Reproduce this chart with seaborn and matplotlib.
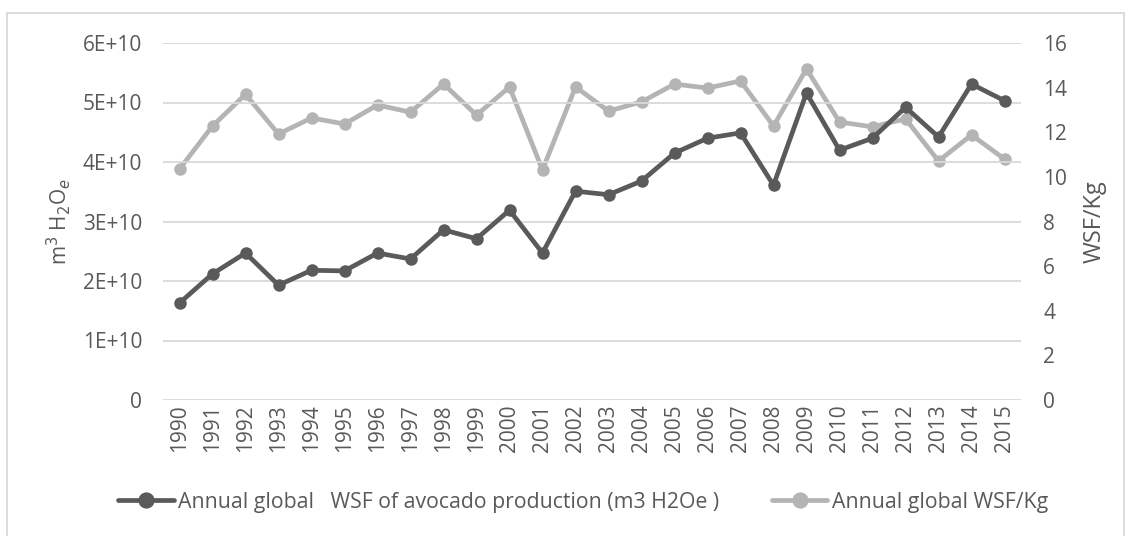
import matplotlib
matplotlib.use("Agg")
import matplotlib.pyplot as plt
import seaborn as sns
import pandas as pd
from matplotlib.patches import Rectangle
from matplotlib.ticker import FixedLocator, FuncFormatter

years = [str(y) for y in range(1990, 2016)]
wsf_total = [1.63e10, 2.12e10, 2.47e10, 1.93e10, 2.18e10, 2.17e10, 2.47e10, 2.37e10,
             2.86e10, 2.71e10, 3.19e10, 2.47e10, 3.51e10, 3.45e10, 3.68e10, 4.15e10,
             4.40e10, 4.49e10, 3.61e10, 5.16e10, 4.20e10, 4.40e10, 4.92e10, 4.42e10,
             5.31e10, 5.03e10]
wsf_per_kg = [10.35, 12.28, 13.70, 11.92, 12.64, 12.37, 13.22, 12.90, 14.16, 12.77,
              14.03, 10.31, 14.03, 12.95, 13.36, 14.16, 13.98, 14.30, 12.28, 14.84,
              12.46, 12.24, 12.60, 10.71, 11.88, 10.80]
label_total = "Annual global   WSF of avocado production (m3 H2Oe )"
label_kg = "Annual global WSF/Kg"

sns.set_style("white")
plt.rcParams['font.family'] = ['Open Sans', 'DejaVu Sans']

dark = "#5a5a5a"
light = "#b4b4b4"
txt = "#595959"
grid = "#d9d9d9"

df = pd.DataFrame({"year": years, "total": wsf_total, "perkg": wsf_per_kg})
df["x"] = range(len(years))

fig = plt.figure(figsize=(11.3, 5.36), dpi=100)
ax = fig.add_axes([163/1130, 1-400/536, 858/1130, 357/536])
ax2 = ax.twinx()

sns.lineplot(data=df, x="x", y="total", ax=ax, color=dark, lw=3.4, marker="o",
             markersize=9, markeredgewidth=0, label=label_total, legend=False, zorder=3)
sns.lineplot(data=df, x="x", y="perkg", ax=ax2, color=light, lw=3.4, marker="o",
             markersize=9, markeredgewidth=0, label=label_kg, legend=False, zorder=3)

ax.set_xlim(-0.5, len(years) - 0.5)
ax.set_ylim(0, 6e10)
ax2.set_ylim(0, 16)
ax.set_xticks(range(len(years)))
ax.set_xticklabels(years, rotation=90)
ax.yaxis.set_major_locator(FixedLocator([i * 1e10 for i in range(7)]))
ax.yaxis.set_major_formatter(FuncFormatter(lambda v, p: "0" if v == 0 else f"{int(round(v/1e10))}E+10"))
ax2.set_yticks(range(0, 17, 2))

ax.grid(axis="y", color=grid, lw=1.3)
ax.grid(axis="x", visible=False)
ax2.grid(False)
for a in (ax, ax2):
    for s in a.spines.values():
        s.set_visible(False)
    a.set_xlabel("")
ax.set_zorder(ax2.get_zorder() + 1)
ax.patch.set_visible(False)

ax.tick_params(axis="y", length=0, pad=15, labelsize=15, labelcolor=txt)
ax.tick_params(axis="x", length=0, pad=3, labelsize=15, labelcolor=txt)
ax2.tick_params(axis="y", length=0, pad=16, labelsize=15, labelcolor=txt)

ax.set_ylabel(r"m$^3$ H$_2$O$_e$", fontsize=15, color=txt)
ax.yaxis.set_label_coords(-0.105, 0.5)
ax2.set_ylabel("WSF/Kg", fontsize=17, color=txt)
ax2.yaxis.set_label_coords(1.072, 0.5)

h1, l1 = ax.get_legend_handles_labels()
h2, l2 = ax2.get_legend_handles_labels()
fig.legend(h1 + h2, l1 + l2, loc="center", bbox_to_anchor=(0.516, 0.063), ncol=2,
           frameon=False, fontsize=15.3, labelcolor=txt, handlelength=2.6,
           handletextpad=0.2, columnspacing=2.5, markerscale=1.3)

fig.patches.append(Rectangle((7/1130, -0.05), 1117/1130, 1.05 - 13/536, transform=fig.transFigure,
                             fill=False, edgecolor="#d9d9d9", lw=1.3))

fig.savefig("out.png", dpi=100)
